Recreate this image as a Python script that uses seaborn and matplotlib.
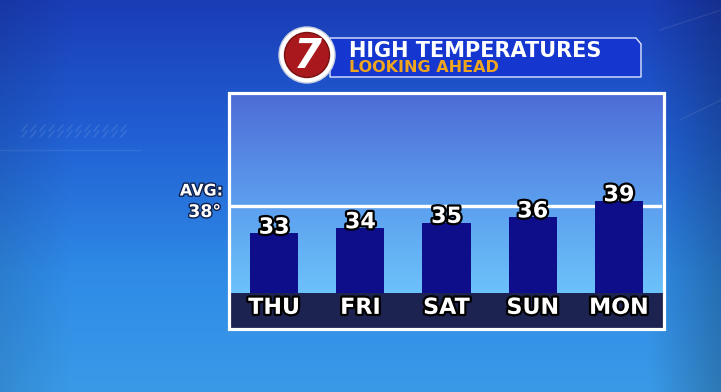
import numpy as np
import matplotlib
matplotlib.use("Agg")
import matplotlib.pyplot as plt
import matplotlib.patheffects as pe
from matplotlib.patches import Rectangle, Circle, Polygon
from matplotlib.colors import to_rgb
import seaborn as sns
import pandas as pd

# ---- data ----
days = ["THU", "FRI", "SAT", "SUN", "MON"]
highs = [33, 34, 35, 36, 39]
avg_high = 38
title = "HIGH TEMPERATURES"
subtitle = "LOOKING AHEAD"
avg_text = ["AVG:", "38°"]
logo_text = "7"

sns.set_theme(style="white")
plt.rcParams['font.family'] = ['DejaVu Sans']

W, H = 721, 392
fig = plt.figure(figsize=(W / 100, H / 100), dpi=100)

def grad(h, w, stops):
    t = np.linspace(0, 1, h)
    pos = [s[0] for s in stops]
    cols = np.array([to_rgb(s[1]) for s in stops])
    out = np.empty((h, 1, 3))
    for c in range(3):
        out[:, 0, c] = np.interp(t, pos, cols[:, c])
    return np.repeat(out, w, axis=1)

# ---- background (pixel coordinates) ----
bg = fig.add_axes([0, 0, 1, 1], zorder=0)
bg.set_axis_off()
img = grad(H, W, [(0, "#1a3cb6"), (0.35, "#2160d4"), (0.7, "#2f8be6"), (1, "#3a9ae8")])
xx = np.linspace(0, 1, W)[None, :]
shade = 1 - 0.22 * np.clip((xx - 0.9) / 0.1, 0, 1) - 0.1 * np.clip((0.1 - xx) / 0.1, 0, 1)
img = img * shade[..., None]
bg.imshow(np.clip(img, 0, 1), extent=[0, W, H, 0], aspect='auto', zorder=0)

# faint streaks
for y0 in [128, 134]:
    for k in range(12):
        x0 = 22 + k * 9
        bg.plot([x0, x0 + 5], [y0 + 3, y0 - 3], color='white', alpha=0.10, lw=1.2, zorder=1)
bg.plot([0, 140], [150, 150], color='white', alpha=0.08, lw=1, zorder=1)
bg.plot([660, 721], [30, 10], color='white', alpha=0.08, lw=1, zorder=1)
bg.plot([680, 721], [120, 100], color='white', alpha=0.08, lw=1, zorder=1)

# panel gradient
pimg = grad(200, 10, [(0, "#4d6cd6"), (0.55, "#5c9eee"), (1, "#6cc2fa")])
bg.imshow(pimg, extent=[229, 664, 293, 93], aspect='auto', zorder=2)
# day label strip
bg.add_patch(Rectangle((229, 293), 435, 36, facecolor="#1d2350", edgecolor='none', zorder=3))
# white border
bg.add_patch(Rectangle((229, 93), 435, 236, fill=False, edgecolor='white', lw=2.3, zorder=4))

# title banner
bg.add_patch(Polygon([(330, 38), (636, 38), (641, 44), (641, 77), (330, 77)],
                     closed=True, facecolor="#1537cf", edgecolor="#dfe6ff", lw=1.0, zorder=4))
bg.add_patch(Circle((307, 55), 28, facecolor='white', edgecolor='#c8d0e0', lw=1, zorder=5))
bg.add_patch(Circle((307, 55), 22.5, facecolor='#a8181c', edgecolor='#7a1010', lw=1, zorder=6))
bg.text(308, 57, logo_text, color='white', fontsize=29, fontweight='bold', style='italic',
        ha='center', va='center', zorder=7)
bg.text(349, 51, title, color='white', fontsize=15, fontweight='bold', ha='left', va='center', zorder=7)
bg.text(349, 67, subtitle, color='#f0a61c', fontsize=11.5, fontweight='bold', ha='left', va='center', zorder=7)

stroke = [pe.withStroke(linewidth=3.2, foreground='black')]
bg.text(223, 191, avg_text[0], color='white', fontsize=11.5, fontweight='bold', ha='right', va='center',
        zorder=7, path_effects=[pe.withStroke(linewidth=2, foreground='#10204a')])
bg.text(221, 212, avg_text[1], color='white', fontsize=12.5, fontweight='bold', ha='right', va='center',
        zorder=7, path_effects=[pe.withStroke(linewidth=2, foreground='#10204a')])

bg.set_xlim(0, W)
bg.set_ylim(H, 0)

# ---- bar chart ----
ax = fig.add_axes([231 / W, 1 - 293 / H, 431 / W, (293 - 96) / H], zorder=3)
ax.set_facecolor('none')
df = pd.DataFrame({"day": days, "high": highs})
sns.barplot(data=df, x="day", y="high", color="#0e0d8a", saturation=1, width=0.56,
            linewidth=0, edgecolor='none', ax=ax, zorder=2)
ax.set_xlim(-0.5, 4.5)
ax.set_ylim(22, 58.4)
ax.axhline(avg_high, color='white', lw=2.4, zorder=1)
ax.bar_label(ax.containers[0], labels=[str(v) for v in highs], padding=-3, color='white',
             fontsize=16, fontweight='bold', path_effects=stroke, zorder=3)
ax.set_xlabel('')
ax.set_ylabel('')
ax.set_yticks([])
ax.tick_params(axis='x', length=0, pad=3.5, labelsize=16, labelcolor='white')
for lbl in ax.get_xticklabels():
    lbl.set_fontweight('bold')
    lbl.set_path_effects(stroke)
for s in ax.spines.values():
    s.set_visible(False)

fig.savefig("out.png", dpi=100)
